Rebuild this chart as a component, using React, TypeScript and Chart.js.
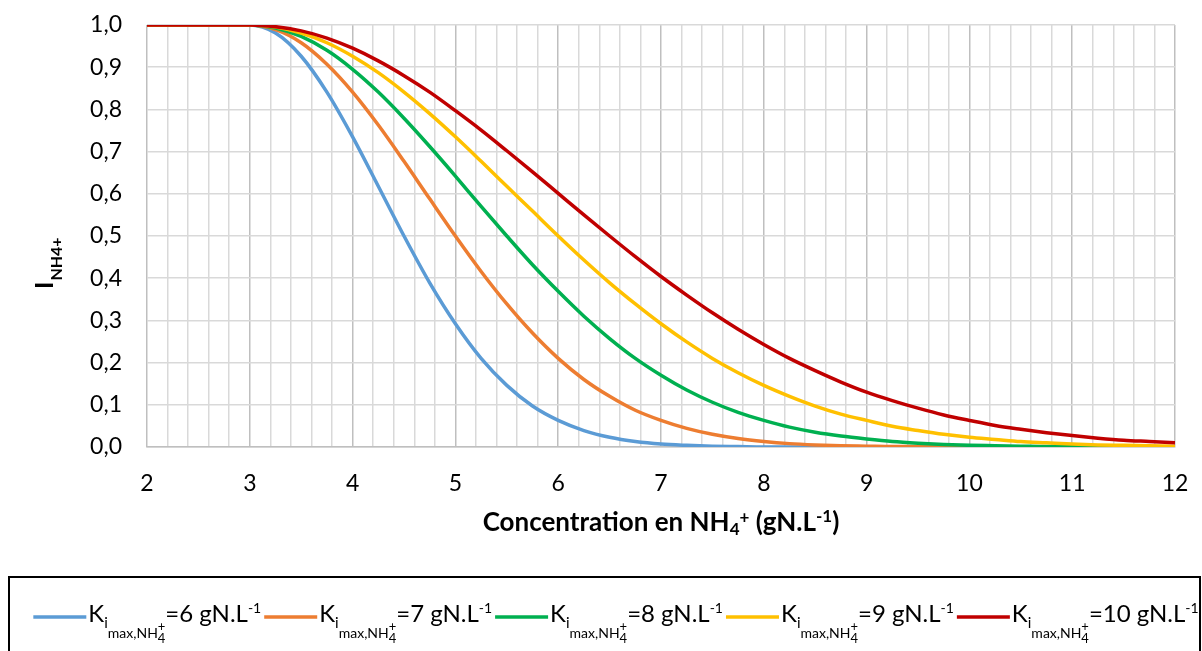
import React, { useEffect, useRef } from 'react';
import { Chart, registerables } from 'chart.js';

Chart.register(...registerables);

// Concentration en NH4+ (gN.L-1)
const concentrations = [
  2, 3, 3.25, 3.5, 3.75, 4, 4.25, 4.5, 4.75, 5, 5.25, 5.5, 5.75, 6, 6.25, 6.5, 6.75,
  7, 7.25, 7.5, 7.75, 8, 8.25, 8.5, 8.75, 9, 9.25, 9.5, 9.75, 10, 10.25, 10.5, 10.75,
  11, 11.25, 11.5, 11.75, 12,
];

// I_NH4+
const iK6 = [
  1, 1, 0.981, 0.926, 0.841, 0.735, 0.618, 0.5, 0.389, 0.292, 0.21, 0.146, 0.097, 0.063,
  0.039, 0.023, 0.013, 0.007, 0.004, 0.002, 0.001, 0, 0, 0, 0, 0, 0, 0, 0, 0, 0, 0, 0, 0,
  0, 0, 0, 0,
];
const iK7 = [
  1, 1, 0.989, 0.958, 0.907, 0.841, 0.763, 0.677, 0.588, 0.5, 0.416, 0.339, 0.27, 0.21,
  0.16, 0.12, 0.087, 0.063, 0.044, 0.03, 0.02, 0.013, 0.008, 0.005, 0.003, 0.002, 0.001,
  0.001, 0, 0, 0, 0, 0, 0, 0, 0, 0, 0,
];
const iK8 = [
  1, 1, 0.993, 0.973, 0.94, 0.895, 0.841, 0.779, 0.712, 0.642, 0.57, 0.5, 0.432, 0.369,
  0.31, 0.257, 0.21, 0.17, 0.135, 0.106, 0.082, 0.063, 0.047, 0.035, 0.026, 0.019, 0.013,
  0.009, 0.006, 0.004, 0.003, 0.002, 0.001, 0.001, 0.001, 0, 0, 0,
];
const iK9 = [
  1, 1, 0.995, 0.981, 0.958, 0.926, 0.887, 0.841, 0.79, 0.735, 0.677, 0.618, 0.559, 0.5,
  0.443, 0.389, 0.339, 0.292, 0.249, 0.21, 0.176, 0.146, 0.12, 0.097, 0.078, 0.063, 0.049,
  0.039, 0.03, 0.023, 0.018, 0.013, 0.01, 0.007, 0.005, 0.004, 0.003, 0.002,
];
const iK10 = [
  1, 1, 0.996, 0.986, 0.969, 0.945, 0.915, 0.88, 0.841, 0.797, 0.751, 0.702, 0.652, 0.601,
  0.55, 0.5, 0.451, 0.404, 0.36, 0.318, 0.279, 0.243, 0.21, 0.181, 0.154, 0.13, 0.11,
  0.092, 0.076, 0.063, 0.051, 0.042, 0.034, 0.027, 0.021, 0.016, 0.013, 0.01,
];

const seriesValues = [iK6, iK7, iK8, iK9, iK10];
const kLabels = ['6', '7', '8', '9', '10'];
const seriesColors = ['#5B9BD5', '#ED7D31', '#00B050', '#FFC000', '#C00000'];

const FONT = 'Lato, "Open Sans", sans-serif';

function isInt(v: number) {
  return Math.abs(v - Math.round(v)) < 1e-6;
}

type Seg = { t: string; s: number; dy: number; stackWith?: { t: string; s: number; dy: number } };

function drawSegs(ctx: CanvasRenderingContext2D, segs: Seg[], x: number, y: number, bold: boolean) {
  let cx = x;
  for (const seg of segs) {
    ctx.font = `${bold ? 'bold ' : ''}${seg.s}px ${FONT}`;
    ctx.fillText(seg.t, cx, y + seg.dy);
    let w = ctx.measureText(seg.t).width;
    if (seg.stackWith) {
      ctx.font = `${bold ? 'bold ' : ''}${seg.stackWith.s}px ${FONT}`;
      ctx.fillText(seg.stackWith.t, cx, y + seg.stackWith.dy);
      w = Math.max(w, ctx.measureText(seg.stackWith.t).width);
    }
    cx += w;
  }
  return cx - x;
}

function measureSegs(ctx: CanvasRenderingContext2D, segs: Seg[], bold: boolean) {
  let w = 0;
  for (const seg of segs) {
    ctx.font = `${bold ? 'bold ' : ''}${seg.s}px ${FONT}`;
    let sw = ctx.measureText(seg.t).width;
    if (seg.stackWith) {
      ctx.font = `${bold ? 'bold ' : ''}${seg.stackWith.s}px ${FONT}`;
      sw = Math.max(sw, ctx.measureText(seg.stackWith.t).width);
    }
    w += sw;
  }
  return w;
}

const decorPlugin = {
  id: 'decor',
  afterDraw(chart: any) {
    const ctx: CanvasRenderingContext2D = chart.ctx;
    const area = chart.chartArea;
    ctx.save();
    ctx.fillStyle = '#000';
    ctx.textAlign = 'left';
    ctx.textBaseline = 'alphabetic';

    // Y axis title: I_NH4+
    ctx.save();
    ctx.translate(53, 289);
    ctx.rotate(-Math.PI / 2);
    ctx.font = `bold 25px ${FONT}`;
    ctx.fillText('I', 0, 0);
    const wI = ctx.measureText('I').width;
    ctx.font = `bold 16px ${FONT}`;
    ctx.fillText('NH4+', wI + 1, 9);
    ctx.restore();

    // X axis title
    const xSegs: Seg[] = [
      { t: 'Concentration en NH', s: 26, dy: 0 },
      { t: '4', s: 17, dy: 4 },
      { t: '+', s: 17, dy: -8 },
      { t: ' (gN.L', s: 26, dy: 0 },
      { t: '-1', s: 17, dy: -9 },
      { t: ')', s: 26, dy: 0 },
    ];
    const xw = measureSegs(ctx, xSegs, true);
    const xc = (area.left + area.right) / 2;
    drawSegs(ctx, xSegs, xc - xw / 2, 531, true);

    // Legend box
    ctx.strokeStyle = '#000';
    ctx.lineWidth = 2;
    ctx.strokeRect(9, 577, 1191, 120);

    const baseY = 622;
    const lineLen = 53;
    const items = kLabels.map((k) => {
      const segs: Seg[] = [
        { t: 'K', s: 24, dy: 0 },
        { t: 'i', s: 15, dy: 6 },
        { t: 'max,NH', s: 14, dy: 16 },
        { t: '4', s: 13, dy: 21, stackWith: { t: '+', s: 13, dy: 9 } },
        { t: `=${k} gN.L`, s: 24, dy: 0 },
        { t: '-1', s: 14, dy: -9 },
      ];
      return segs;
    });
    const gapLine = 2;
    const gapItem = 3;
    const widths = items.map((segs) => lineLen + gapLine + measureSegs(ctx, segs, false));
    const total = widths.reduce((a, b) => a + b, 0) + gapItem * (items.length - 1);
    let lx = 616 - total / 2;
    items.forEach((segs, i) => {
      ctx.strokeStyle = seriesColors[i];
      ctx.lineWidth = 3.5;
      ctx.beginPath();
      ctx.moveTo(lx, baseY - 5);
      ctx.lineTo(lx + lineLen, baseY - 5);
      ctx.stroke();
      ctx.fillStyle = '#000';
      drawSegs(ctx, segs, lx + lineLen + gapLine, baseY, false);
      lx += widths[i] + gapItem;
    });

    ctx.restore();
  },
};

export default function App() {
  const canvasRef = useRef<HTMLCanvasElement | null>(null);

  useEffect(() => {
    const canvas = canvasRef.current;
    if (!canvas) return;
    const chart = new Chart(canvas, {
      type: 'line',
      data: {
        datasets: seriesValues.map((vals, i) => ({
          label: `K=${kLabels[i]}`,
          data: concentrations.map((x, j) => ({ x, y: vals[j] })),
          borderColor: seriesColors[i],
          backgroundColor: seriesColors[i],
          borderWidth: 3.5,
          pointRadius: 0,
          fill: false,
          cubicInterpolationMode: 'monotone' as const,
          order: seriesValues.length - 1 - i,
        })),
      },
      options: {
        responsive: false,
        animation: false,
        events: [],
        layout: { padding: { left: 0, top: 25, right: 27, bottom: 0 } },
        plugins: {
          legend: { display: false },
          tooltip: { enabled: false },
          title: { display: false },
        },
        scales: {
          x: {
            type: 'linear',
            min: 2,
            max: 12,
            afterFit: (s: any) => {
              s.height = 204;
              s.paddingLeft = 0;
              s.paddingRight = 0;
            },
            ticks: {
              stepSize: 0.2,
              autoSkip: false,
              maxRotation: 0,
              minRotation: 0,
              maxTicksLimit: 1000,
              padding: 23,
              color: '#000',
              font: { size: 23, family: FONT },
              callback: (v: any) => (isInt(Number(v)) ? String(Math.round(Number(v))) : ''),
            },
            grid: {
              drawTicks: false,
              color: (c: any) => (c.tick && isInt(c.tick.value) ? '#BFBFBF' : '#D9D9D9'),
              lineWidth: 1.5,
            },
            border: { display: true, color: '#BFBFBF', width: 1.5 },
          },
          y: {
            type: 'linear',
            min: 0,
            max: 1,
            afterFit: (s: any) => {
              s.width = 147;
              s.paddingTop = 0;
              s.paddingBottom = 0;
            },
            ticks: {
              stepSize: 0.1,
              padding: 25,
              color: '#000',
              font: { size: 23, family: FONT },
              callback: (v: any) => Number(v).toFixed(1).replace('.', ','),
            },
            grid: {
              drawTicks: false,
              color: '#D9D9D9',
              lineWidth: 1.5,
            },
            border: { display: false },
          },
        },
      },
      plugins: [decorPlugin],
    } as any);
    return () => {
      chart.destroy();
    };
  }, []);

  return (
    <div style={{ position: 'fixed', left: 0, top: 0, width: 1202, height: 651, background: '#fff' }}>
      <canvas ref={canvasRef} width={1202} height={651} style={{ display: 'block' }} />
    </div>
  );
}
